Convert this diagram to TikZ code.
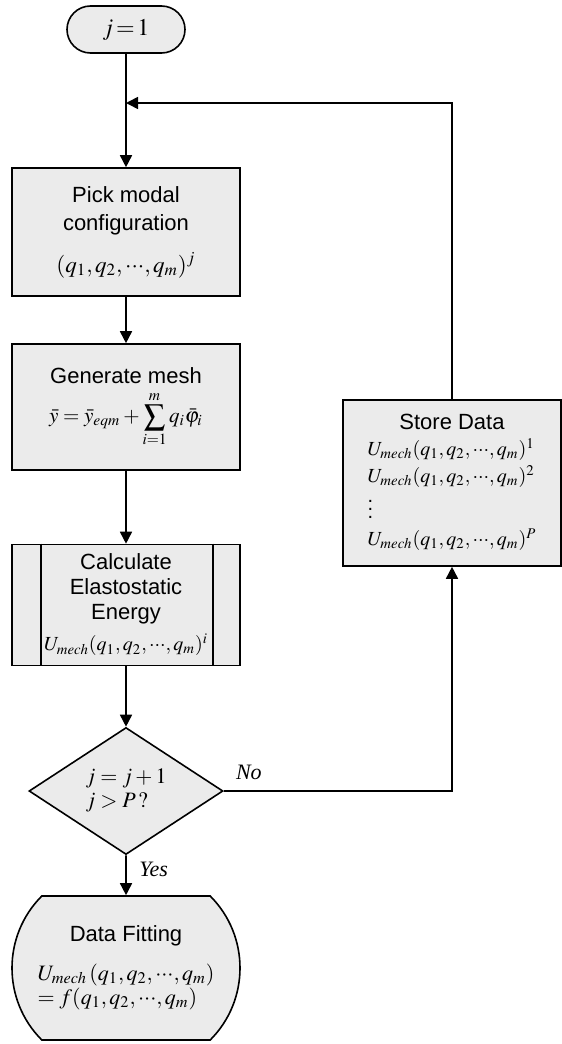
\documentclass[tikz,border=0pt]{standalone}
\usepackage{mathptmx}
\usepackage[no-math]{fontspec}
\setmainfont{Liberation Serif}
\setsansfont{Liberation Sans}
\usepackage{xcolor}
\usetikzlibrary{shapes.geometric,shapes.misc,arrows.meta}

\definecolor{boxgray}{gray}{0.92}

\tikzset{
  box/.style={draw, fill=boxgray, line width=0.8pt, inner sep=0pt, align=center,
    minimum width=114pt, font=\sffamily\fontsize{11}{14}\selectfont},
  arr/.style={-{Triangle[length=6pt,width=6pt]}, line width=0.8pt},
  lbl/.style={font=\itshape\fontsize{11}{13}\selectfont},
}
\newcommand{\mathsz}[1]{\fontsize{#1}{#1}\selectfont}
\newcommand{\qlist}{(q_1,q_2,{\cdot}{\cdot}{\cdot},q_m)}

\begin{document}
\begin{tikzpicture}[x=0.5pt,y=-0.5pt]
    \useasboundingbox (0,0) rectangle (562,1044);

    \node[box, rounded rectangle, minimum width=59pt, minimum height=23.5pt, font=\mathsz{12}] (start) at (126,29.5) {$j\,{=}\,1$};
    \coordinate (loop) at (126,103);

    \node[box, minimum height=64pt] (pick) at (126,232)
        {Pick modal\\configuration\\[7pt]{\mathsz{11.5}$\qlist^j$}};
    \node[box, minimum height=63pt] (gen) at (126,407)
        {Generate mesh\\[3pt]{\mathsz{10.5}$\displaystyle\bar y=\bar y_{eqm}+\sum_{i=1}^{m}q_i\bar\varphi_i$}};
    \node[box, minimum height=60.5pt, font=\sffamily\fontsize{11}{12.5}\selectfont] (calc) at (126,605)
        {Calculate\\Elastostatic\\Energy\\[3pt]{\mathsz{10}$U_{mech}\qlist^i$}};
    \draw[line width=0.8pt] ([xshift=15pt]calc.north west) -- ([xshift=15pt]calc.south west);
    \draw[line width=0.8pt] ([xshift=-14pt]calc.north east) -- ([xshift=-14pt]calc.south east);

    \node[box, diamond, minimum width=97pt, minimum height=60pt, font=\mathsz{11}] (dec) at (126,791)
        {$\begin{array}{@{}l@{}}j=j+1\\[1pt]j>P\,?\end{array}$};

    \node[box, rounded rectangle, rounded rectangle arc length=90, minimum height=72pt] (fit) at (126,968)
        {Data Fitting\\[8pt]{\mathsz{11}$\begin{array}{@{}l@{}}U_{mech}\,\qlist\\[0.5pt]=f\qlist\end{array}$}};

    \node[box, minimum width=109pt, minimum height=83pt] (store) at (452,483)
        {Store Data\\[3pt]{\mathsz{10}$\begin{array}{@{}l@{}}U_{mech}\qlist^1\\[2pt]U_{mech}\qlist^2\\[0pt]\vdots\\[2pt]U_{mech}\qlist^P\end{array}$}};

    \draw[arr] (start) -- (pick);
    \draw[arr] (pick) -- (gen);
    \draw[arr] (gen) -- (calc);
    \draw[arr] (calc) -- (dec);
    \draw[arr] (dec) -- node[lbl, right, pos=0.35, xshift=3pt]{Yes} (fit);
    \draw[arr] (dec.east) -| node[lbl, above, pos=0.055, yshift=2pt]{No} (store.south);
    \draw[arr] (store.north) |- (loop);
\end{tikzpicture}
\end{document}
